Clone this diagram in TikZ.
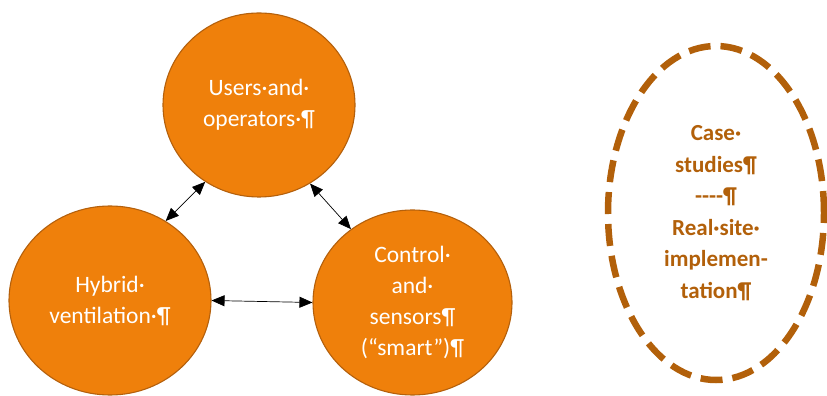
\documentclass[tikz,border=0pt]{standalone}
\usepackage{fontspec}
\setmainfont{Carlito}
\usetikzlibrary{shapes.geometric,arrows.meta}
\definecolor{orfill}{RGB}{239,128,11}
\definecolor{ordraw}{RGB}{180,96,12}
\definecolor{brownd}{RGB}{178,96,10}
\tikzset{
  topic/.style={ellipse, fill=orfill, draw=ordraw, line width=1.1pt, inner sep=0pt,
    text=white, align=center, font=\fontsize{23.5}{31}\selectfont},
  casebox/.style={ellipse, draw=brownd, line width=6.5pt, dash pattern=on 22pt off 10pt,
    inner sep=0pt, text=brownd, align=center, font=\fontsize{23}{31.5}\selectfont\bfseries},
  link/.style={line width=0.7pt, {Triangle[length=13pt,width=11pt]}-{Triangle[length=13pt,width=11pt]}}
}
\begin{document}
\begin{tikzpicture}[x=1pt,y=1pt]
\useasboundingbox (0,0) rectangle (827,396);
\node[topic, minimum width=192pt, minimum height=184pt] (T) at (259,291) {Users·and·\\operators·¶};
\node[topic, minimum width=202pt, minimum height=189pt] (L) at (110,95.5) {Hybrid·\\ventilation·¶};
\node[topic, minimum width=199pt, minimum height=185pt] (R) at (412.5,93.5) {Control·\\and·\\sensors¶\\(“smart”)¶};
\node[casebox, minimum width=216pt, minimum height=334pt] (C) at (716,183) {Case·\\studies¶\\-{}-{}-{}-¶\\Real·site·\\implemen-\\tation¶};
\draw[link] (L.55) -- (T.235);
\draw[link] (T.303) -- (R.130);
\draw[link] (L.east) -- (R.west);
\end{tikzpicture}
\end{document}
